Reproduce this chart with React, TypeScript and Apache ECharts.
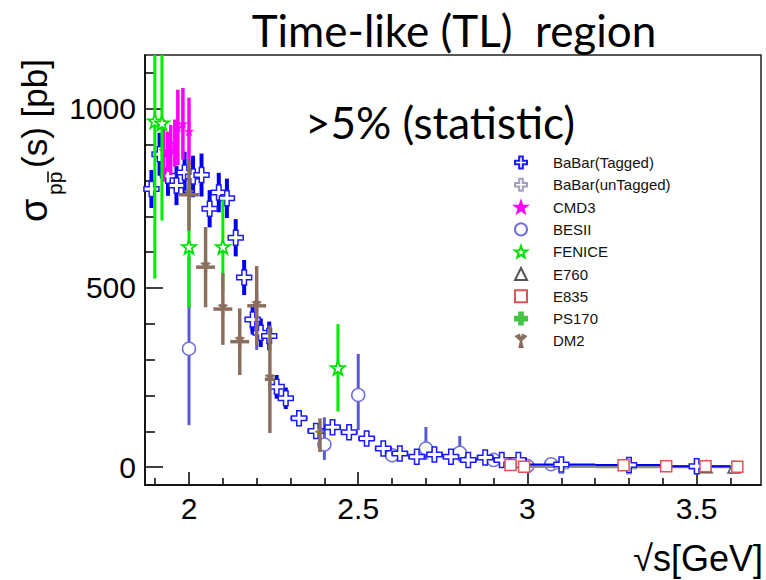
import React, { useEffect, useRef } from "react";
import * as echarts from "echarts";

// ---------- axis ranges & ticks ----------
const xRange = [1.87, 3.69];
const yRange = [-50, 1150];
const xMajorTicks = [2, 2.5, 3, 3.5];
const xMinorTicks = [1.9, 2.1, 2.2, 2.3, 2.4, 2.6, 2.7, 2.8, 2.9, 3.1, 3.2, 3.3, 3.4, 3.6];
const yMajorTicks = [0, 500, 1000];
const yMinorTicks = [100, 200, 300, 400, 600, 700, 800, 900, 1100];

// ---------- BaBar (Tagged) ----------
const babarTX = [1.889, 1.913, 1.938, 1.963, 1.987, 2.012, 2.037, 2.061, 2.088, 2.112, 2.138, 2.163, 2.188, 2.212, 2.237, 2.259, 2.286, 2.325, 2.375, 2.424, 2.473, 2.525, 2.574, 2.623, 2.673, 2.725, 2.774, 2.825, 2.875, 2.924, 2.973, 3.1, 3.3, 3.5, 3.7];
const babarTY = [776, 873, 813, 786, 822, 811, 815, 721, 766, 750, 640, 529, 412, 375, 366, 224, 192, 136, 101, 111, 97, 80, 52, 38, 29, 35, 29, 20, 27, 20, 20, 7, 6, 2, 2];
const babarTErr = [53, 60, 56, 55, 58, 58, 60, 52, 55, 55, 52, 49, 42, 40, 40, 33, 30, 15, 12, 10, 10, 9, 8, 7, 6, 6, 5, 5, 5, 4, 4, 2, 2, 1, 1];
const babarTXErr = [0.0125, 0.0125, 0.0125, 0.0125, 0.0125, 0.0125, 0.0125, 0.0125, 0.0125, 0.0125, 0.0125, 0.0125, 0.0125, 0.0125, 0.0125, 0.0125, 0.0125, 0.025, 0.025, 0.025, 0.025, 0.025, 0.025, 0.025, 0.025, 0.025, 0.025, 0.025, 0.025, 0.025, 0.025, 0.1, 0.1, 0.1, 0.1];

// ---------- BaBar (unTagged) ----------
const babarUX = [3.1, 3.3, 3.5, 3.7];
const babarUY = [1.5, 1, 0.8, 0.5];
const babarUErr = [1, 1, 0.5, 0.5];
const babarUXErr = [0.1, 0.1, 0.1, 0.1];

// ---------- CMD3 ----------
const cmd3X = [1.925, 1.937, 1.946, 1.958, 1.967, 1.982, 2.0];
const cmd3Y = [883, 880, 885, 904, 948, 958, 937];
const cmd3Err = [87, 56, 70, 66, 105, 100, 94];

// ---------- BESII ----------
const besX = [2.0, 2.2, 2.4, 2.5, 2.6, 2.7, 2.8, 2.9, 3.0, 3.07];
const besY = [330, 390, 63, 201, 33, 52, 40, 20, 3, 8];
const besErrLo = [213, 63, 43, 98, 15, 32, 25, 10, 5, 4];
const besErrHi = [257, 100, 76, 115, 15, 60, 47, 10, 5, 4];

// ---------- FENICE ----------
const feniceX = [1.899, 1.92, 2.0, 2.1, 2.44];
const feniceY = [966, 960, 615, 615, 277];
const feniceErr = [440, 272, 170, 130, 122];

// ---------- E760 ----------
const e760X = [3.528, 3.61];
const e760Y = [1, 0];
const e760Err = [1, 1];

// ---------- E835 ----------
const e835X = [2.95, 2.99, 3.284, 3.41, 3.526, 3.62];
const e835Y = [6, 1, 5, 2, 2, 1];
const e835Err = [2, 1, 1, 1, 1, 1];

// ---------- PS170 (no point inside the frame) ----------
const ps170X: number[] = [];
const ps170Y: number[] = [];
const ps170Err: number[] = [];

// ---------- DM2 ----------
const dm2X = [2.0, 2.049, 2.1, 2.15, 2.2, 2.239, 2.387];
const dm2Y = [760, 558, 441, 350, 450, 245, 89];
const dm2Err = [100, 112, 100, 93, 111, 150, 47];
const dm2XErr = [0.03, 0.028, 0.028, 0.028, 0.028, 0.015, 0.0];

// ---------- symbols ----------
const PLUS = "path://M3.5,0H6.5V3.5H10V6.5H6.5V10H3.5V6.5H0V3.5H3.5Z";
const STAR = "path://M5,0L6.18,3.38L9.76,3.45L6.9,5.62L7.94,9.05L5,7L2.06,9.05L3.1,5.62L0.24,3.45L3.82,3.38Z";
const TREFOIL = "path://M5,5L1,1.2L3.6,0Z M5,5L9,1.2L6.4,0Z M5,5L3.7,10L6.3,10Z";

const FONT = "'Liberation Sans', Arial, sans-serif";
const SLIDE_FONT = "Lato, 'Open Sans', sans-serif";

function build(xs: number[], ys: number[], lo: number[], hi: number[], xe?: number[]) {
  return xs.map((x, i) => {
    const e = xe ? xe[i] : 0;
    return [x, ys[i], x - e, x + e, ys[i] - lo[i], ys[i] + hi[i]];
  });
}

function errRender(color: string, width: number) {
  return (params: any, api: any) => {
    const cs = params.coordSys;
    const x = api.value(0), y = api.value(1);
    const xl = api.value(2), xh = api.value(3), yl = api.value(4), yh = api.value(5);
    const c = api.coord([x, y]);
    const clx = (v: number) => Math.max(cs.x, Math.min(cs.x + cs.width, v));
    const cly = (v: number) => Math.max(cs.y, Math.min(cs.y + cs.height, v));
    if (c[0] < cs.x - 1 || c[0] > cs.x + cs.width + 1) return { type: "group", children: [] };
    const top = cly(api.coord([x, yh])[1]);
    const bot = cly(api.coord([x, yl])[1]);
    const left = clx(api.coord([xl, y])[0]);
    const right = clx(api.coord([xh, y])[0]);
    const children: any[] = [
      { type: "line", shape: { x1: c[0], y1: top, x2: c[0], y2: bot }, style: { stroke: color, lineWidth: width } },
    ];
    if (right - left > 0.5) {
      const hw = right - left > 40 ? Math.max(1.5, width / 2) : width;
      children.push({ type: "line", shape: { x1: left, y1: c[1], x2: right, y2: c[1] }, style: { stroke: color, lineWidth: hw } });
    }
    return { type: "group", children };
  };
}

type Ds = {
  name: string; data: number[][]; symbol: string; size: number; z: number;
  fill: string; border: string; bw: number; barColor: string; barWidth: number;
};

const datasets: Ds[] = [
  { name: "BaBar(Tagged)", z: 20, data: build(babarTX, babarTY, babarTErr, babarTErr, babarTXErr), symbol: PLUS, size: 15, fill: "#ffffff", border: "#1a1aff", bw: 1.5, barColor: "#0000ee", barWidth: 4 },
  { name: "BaBar(unTagged)", z: 18, data: build(babarUX, babarUY, babarUErr, babarUErr, babarUXErr), symbol: PLUS, size: 14, fill: "#ffffff", border: "#a0a0bc", bw: 1.5, barColor: "#8c8c8c", barWidth: 6 },
  { name: "CMD3", z: 24, data: build(cmd3X, cmd3Y, cmd3Err, cmd3Err), symbol: STAR, size: 9, fill: "#ff00ff", border: "#ff00ff", bw: 0.5, barColor: "#ff00ff", barWidth: 3.5 },
  { name: "BESII", z: 14, data: build(besX, besY, besErrLo, besErrHi), symbol: "circle", size: 13, fill: "#ffffff", border: "#7070dd", bw: 1.5, barColor: "#5a5ad0", barWidth: 3 },
  { name: "FENICE", z: 26, data: build(feniceX, feniceY, feniceErr, feniceErr), symbol: STAR, size: 14, fill: "#ffffff", border: "#00e000", bw: 1.8, barColor: "#00ee00", barWidth: 3 },
  { name: "E760", z: 28, data: build(e760X, e760Y, e760Err, e760Err), symbol: "triangle", size: 12, fill: "#ffffff", border: "#555555", bw: 1.5, barColor: "#555555", barWidth: 2 },
  { name: "E835", z: 30, data: build(e835X, e835Y, e835Err, e835Err), symbol: "rect", size: 11, fill: "#ffffff", border: "#dd5555", bw: 1.5, barColor: "#dd5555", barWidth: 2 },
  { name: "PS170", z: 32, data: build(ps170X, ps170Y, ps170Err, ps170Err), symbol: PLUS, size: 12, fill: "#44c444", border: "#44c444", bw: 0.5, barColor: "#44c444", barWidth: 3 },
  { name: "DM2", z: 34, data: build(dm2X, dm2Y, dm2Err, dm2Err, dm2XErr), symbol: TREFOIL, size: 10, fill: "#8b6f5e", border: "#8b6f5e", bw: 0.5, barColor: "#8b6f5e", barWidth: 3.5 },
];

export default function App() {
  const ref = useRef<HTMLDivElement>(null);
  useEffect(() => {
    if (!ref.current) return;
    const chart = echarts.init(ref.current, null, { renderer: "svg" });
    const series: any[] = [];
    datasets.forEach((d) => {
      series.push({
        type: "custom",
        name: d.name + " err",
        data: d.data,
        renderItem: errRender(d.barColor, d.barWidth),
        clip: true,
        silent: true,
        z: d.z,
        encode: { x: 0, y: 1 },
      });
      series.push({
        type: "scatter",
        name: d.name,
        data: d.data.map((p) => [p[0], p[1]]),
        symbol: d.symbol,
        symbolSize: d.size,
        itemStyle: { color: d.fill, borderColor: d.border, borderWidth: d.bw, opacity: 1 },
        clip: true,
        z: d.z + 1,
      });
    });
    const axisLineStyle = { color: "#000", width: 1.5 };
    chart.setOption({
      animation: false,
      backgroundColor: "#ffffff",
      grid: { left: 145, top: 55, right: 5, bottom: 95, show: true, borderColor: "#222", borderWidth: 1.5, outerBoundsMode: "none" },
      legend: {
        orient: "vertical",
        left: 514,
        top: 155,
        itemWidth: 12,
        itemHeight: 12,
        itemGap: 7.3,
        padding: 0,
        selectedMode: false,
        data: datasets.map((d) => ({ name: d.name })),
        textStyle: { fontSize: 15, color: "#111", fontFamily: FONT, padding: [0, 0, 0, 21] },
      },
      xAxis: [
        {
          type: "value", min: xRange[0], max: xRange[1], position: "bottom",
          axisLine: { show: true, onZero: false, lineStyle: axisLineStyle },
          axisTick: { show: true, inside: true, length: 13, customValues: xMajorTicks, lineStyle: axisLineStyle },
          axisLabel: { show: true, customValues: xMajorTicks, fontSize: 30, color: "#000", fontFamily: FONT, margin: 8, formatter: (v: number) => String(v) },
          splitLine: { show: false },
        },
        {
          type: "value", min: xRange[0], max: xRange[1], position: "bottom",
          axisLine: { show: false, onZero: false },
          axisTick: { show: true, inside: true, length: 7, customValues: xMinorTicks, lineStyle: axisLineStyle },
          axisLabel: { show: false },
          splitLine: { show: false },
        },
      ],
      yAxis: [
        {
          type: "value", min: yRange[0], max: yRange[1], position: "left",
          axisLine: { show: true, onZero: false, lineStyle: axisLineStyle },
          axisTick: { show: true, inside: true, length: 18, customValues: yMajorTicks, lineStyle: axisLineStyle },
          axisLabel: { show: true, customValues: yMajorTicks, fontSize: 30, color: "#000", fontFamily: FONT, margin: 9, formatter: (v: number) => String(v) },
          splitLine: { show: false },
        },
        {
          type: "value", min: yRange[0], max: yRange[1], position: "left",
          axisLine: { show: false, onZero: false },
          axisTick: { show: true, inside: true, length: 10, customValues: yMinorTicks, lineStyle: axisLineStyle },
          axisLabel: { show: false },
          splitLine: { show: false },
        },
      ],
      graphic: [
        { type: "text", x: 454, y: 30, style: { text: "Time-like (TL)  region", fontSize: 44, fontFamily: SLIDE_FONT, fill: "#000", textAlign: "center", textVerticalAlign: "middle" } },
        { type: "text", x: 440, y: 122, style: { text: ">5% (statistic)", fontSize: 44, fontFamily: SLIDE_FONT, fill: "#000", textAlign: "center", textVerticalAlign: "middle" } },
        { type: "text", x: 763, y: 558, style: { text: "√s[GeV]", fontSize: 36, fontFamily: FONT, fill: "#000", textAlign: "right", textVerticalAlign: "middle" } },
        {
          type: "group", x: 34, y: 222, rotation: Math.PI / 2,
          children: [
            { type: "text", x: 0, y: 0, style: { text: "σ", fontSize: 38, fontFamily: FONT, fill: "#000", textAlign: "left", textVerticalAlign: "middle" } },
            { type: "text", x: 27, y: 20, style: { text: "pp", fontSize: 21, fontFamily: FONT, fill: "#000", textAlign: "left", textVerticalAlign: "middle" } },
            { type: "line", shape: { x1: 39.5, y1: 14, x2: 50.5, y2: 14 }, style: { stroke: "#000", lineWidth: 1.5 } },
            { type: "text", x: 54, y: 0, style: { text: "(s) [pb]", fontSize: 35, fontFamily: FONT, fill: "#000", textAlign: "left", textVerticalAlign: "middle" } },
          ],
        },
      ],
      series,
    });
    return () => chart.dispose();
  }, []);
  return <div ref={ref} style={{ position: "fixed", left: 0, top: 0, width: 766, height: 580, background: "#fff" }} />;
}
